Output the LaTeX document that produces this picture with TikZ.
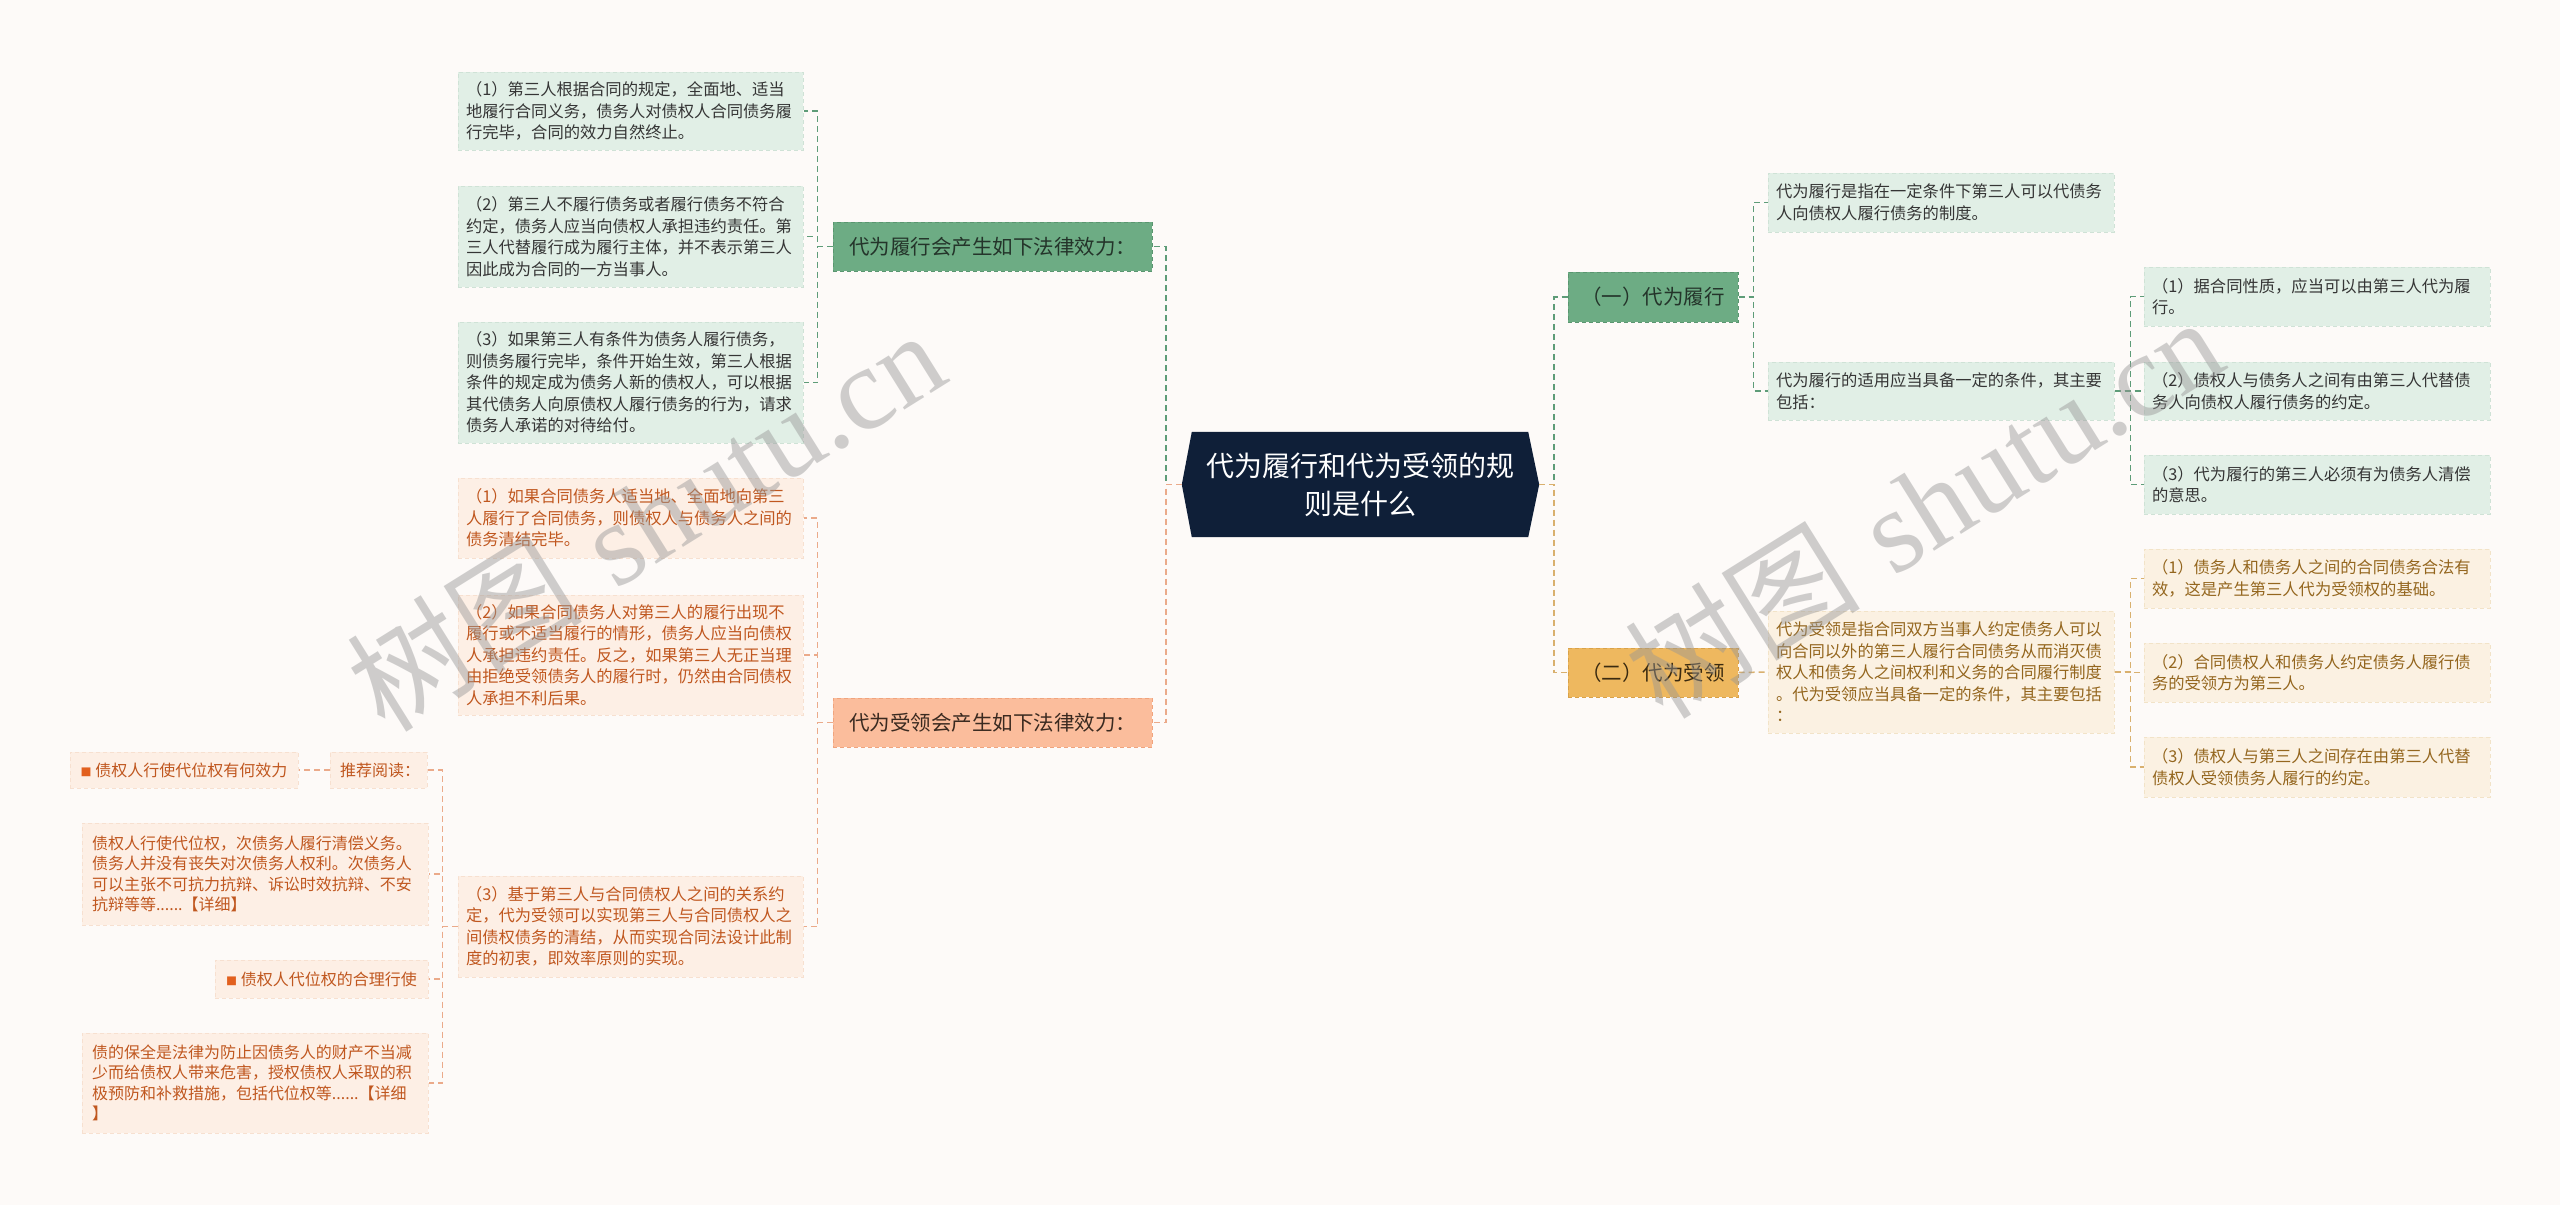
\documentclass[tikz,border=0pt]{standalone}
\usepackage{fontspec}
\newfontfamily\cjk{Noto Sans CJK SC}
\newfontfamily\wmserif{Liberation Serif}
\usetikzlibrary{calc}
\definecolor{bg}{HTML}{FDFAF8}
\definecolor{rootfill}{HTML}{0F1F38}
\definecolor{gdark}{HTML}{6DAC84}
\definecolor{gdarkdraw}{HTML}{5A9670}
\definecolor{gdarktext}{HTML}{24342A}
\definecolor{gleaffill}{HTML}{E1EFE6}
\definecolor{gleafdraw}{HTML}{CFE2D6}
\definecolor{gleaftext}{HTML}{353535}
\definecolor{gline}{HTML}{5E9C78}
\definecolor{odark}{HTML}{FBBD9C}
\definecolor{odarkdraw}{HTML}{F0A47E}
\definecolor{odarktext}{HTML}{3A2A20}
\definecolor{oleaffill}{HTML}{FDEFE5}
\definecolor{oleafdraw}{HTML}{F7E0D0}
\definecolor{oleaftext}{HTML}{C0571F}
\definecolor{oline}{HTML}{EBAA8A}
\definecolor{bullet}{HTML}{E2601E}
\definecolor{ydark}{HTML}{EEB85F}
\definecolor{ydarkdraw}{HTML}{D9A24A}
\definecolor{ydarktext}{HTML}{3A2A10}
\definecolor{yleaffill}{HTML}{FBF1E2}
\definecolor{yleafdraw}{HTML}{F2E3C8}
\definecolor{yleaftext}{HTML}{94661E}
\definecolor{yline}{HTML}{D9B06E}
\definecolor{wmgray}{HTML}{969696}
\newcommand\leaffont{\cjk\fontsize{16.3pt}{21.5pt}\selectfont}
\newcommand\recfont{\cjk\fontsize{16pt}{20.5pt}\selectfont}
\newcommand\midfont{\cjk\fontsize{20.5pt}{24pt}\selectfont}
\newcommand\rootfont{\cjk\fontsize{28pt}{38pt}\selectfont}
\newcommand\sqb{{\color{bullet}\fontsize{11pt}{11pt}\selectfont ■}}
\tikzset{
  boxbase/.style={inner xsep=8pt, inner ysep=0pt, align=left, anchor=center, line width=1pt, dash pattern=on 4pt off 3pt},
  gleaf/.style={boxbase, font=\leaffont, fill=gleaffill, draw=gleafdraw, text=gleaftext},
  oleaf/.style={boxbase, font=\leaffont, fill=oleaffill, draw=oleafdraw, text=oleaftext},
  yleaf/.style={boxbase, font=\leaffont, fill=yleaffill, draw=yleafdraw, text=yleaftext},
  recbox/.style={boxbase, inner xsep=10pt, font=\recfont, fill=oleaffill, draw=oleafdraw, text=oleaftext},
  gmid/.style={boxbase, align=center, font=\midfont, fill=gdark, draw=gdarkdraw, text=gdarktext},
  omid/.style={boxbase, align=center, font=\midfont, fill=odark, draw=odarkdraw, text=odarktext},
  ymid/.style={boxbase, align=center, font=\midfont, fill=ydark, draw=ydarkdraw, text=ydarktext},
  gcon/.style={draw=gline, line width=1.5pt, dash pattern=on 6pt off 4pt},
  ocon/.style={draw=oline, line width=1.5pt, dash pattern=on 6pt off 4pt},
  ycon/.style={draw=yline, line width=1.5pt, dash pattern=on 6pt off 4pt},
  wmark/.style={rotate=32, text=wmgray, text opacity=0.45, font=\fontsize{118pt}{128pt}\selectfont},
}
\begin{document}
\begin{tikzpicture}[x=1pt,y=-1pt]
\fill[bg] (0,0) rectangle (2560,1205);
\useasboundingbox (0,0) rectangle (2560,1205);

% root
\node[inner sep=0pt, minimum width=357pt, minimum height=105pt] (root) at (1360.5,484.5) {};
\fill[rootfill] ($(root.north west)+(10,0)$) -- ($(root.north east)+(-11,0)$) -- (root.east) -- ($(root.south east)+(-11,0)$) -- ($(root.south west)+(10,0)$) -- (root.west) -- cycle;
\node[font=\rootfont, text=white, align=center] (roottext) at (root.center) {代为履行和代为受领的规\\则是什么};

% left green
\node[gmid, text width=303pt, minimum height=49pt] (gA) at (992.5,246.5) {代为履行会产生如下法律效力：};
\node[gleaf, text width=329pt, minimum height=78pt] (gL1) at (630.5,111) {（1）第三人根据合同的规定，全面地、适当\\地履行合同义务，债务人对债权人合同债务履\\行完毕，合同的效力自然终止。};
\node[gleaf, text width=329pt, minimum height=101pt] (gL2) at (630.5,236.5) {（2）第三人不履行债务或者履行债务不符合\\约定，债务人应当向债权人承担违约责任。第\\三人代替履行成为履行主体，并不表示第三人\\因此成为合同的一方当事人。};
\node[gleaf, text width=329pt, minimum height=121pt] (gL3) at (630.5,382.5) {（3）如果第三人有条件为债务人履行债务，\\则债务履行完毕，条件开始生效，第三人根据\\条件的规定成为债务人新的债权人，可以根据\\其代债务人向原债权人履行债务的行为，请求\\债务人承诺的对待给付。};

% left orange
\node[omid, text width=303pt, minimum height=49pt] (oA) at (992.5,722.5) {代为受领会产生如下法律效力：};
\node[oleaf, text width=329pt, minimum height=80pt] (oL1) at (630.5,518) {（1）如果合同债务人适当地、全面地向第三\\人履行了合同债务，则债权人与债务人之间的\\债务清结完毕。};
\node[oleaf, text width=329pt, minimum height=120pt] (oL2) at (630.5,655) {（2）如果合同债务人对第三人的履行出现不\\履行或不适当履行的情形，债务人应当向债权\\人承担违约责任。反之，如果第三人无正当理\\由拒绝受领债务人的履行时，仍然由合同债权\\人承担不利后果。};
\node[oleaf, text width=329pt, minimum height=101pt] (oL3) at (630.5,926.5) {（3）基于第三人与合同债权人之间的关系约\\定，代为受领可以实现第三人与合同债权人之\\间债权债务的清结，从而实现合同法设计此制\\度的初衷，即效率原则的实现。};

% recommended reading group
\node[recbox, text width=77pt, minimum height=36pt] (rec) at (378.5,770) {推荐阅读：};
\node[recbox, minimum width=228pt, minimum height=36pt] (rl1) at (184,770) {\sqb\ 债权人行使代位权有何效力};
\node[recbox, text width=326pt, minimum height=102pt] (rd1) at (255,874) {债权人行使代位权，次债务人履行清偿义务。\\债务人并没有丧失对次债务人权利。次债务人\\可以主张不可抗力抗辩、诉讼时效抗辩、不安\\抗辩等等......【详细】};
\node[recbox, minimum width=213pt, minimum height=38pt] (rl2) at (321.5,979) {\sqb\ 债权人代位权的合理行使};
\node[recbox, text width=326pt, minimum height=100pt] (rd2) at (255,1083) {债的保全是法律为防止因债务人的财产不当减\\少而给债权人带来危害，授权债权人采取的积\\极预防和补救措施，包括代位权等......【详细\\】};

% right green
\node[gmid, text width=154pt, minimum height=50pt] (gB) at (1653,297) {（一）代为履行};
\node[gleaf, text width=330pt, minimum height=59pt] (gD1) at (1941,202.5) {代为履行是指在一定条件下第三人可以代债务\\人向债权人履行债务的制度。};
\node[gleaf, text width=330pt, minimum height=58pt] (gD2) at (1941,391) {代为履行的适用应当具备一定的条件，其主要\\包括：};
\node[gleaf, text width=330pt, minimum height=59pt] (gR1) at (2317,296.5) {（1）据合同性质，应当可以由第三人代为履\\行。};
\node[gleaf, text width=330pt, minimum height=58pt] (gR2) at (2317,391) {（2）债权人与债务人之间有由第三人代替债\\务人向债权人履行债务的约定。};
\node[gleaf, text width=330pt, minimum height=59pt] (gR3) at (2317,484.5) {（3）代为履行的第三人必须有为债务人清偿\\的意思。};

% right gold
\node[ymid, text width=154pt, minimum height=49pt] (yB) at (1653,672.5) {（二）代为受领};
\node[yleaf, text width=330pt, minimum height=122pt] (yD) at (1941,672) {代为受领是指合同双方当事人约定债务人可以\\向合同以外的第三人履行合同债务从而消灭债\\权人和债务人之间权利和义务的合同履行制度\\。代为受领应当具备一定的条件，其主要包括\\：};
\node[yleaf, text width=330pt, minimum height=59pt] (yR1) at (2317,578.5) {（1）债务人和债务人之间的合同债务合法有\\效，这是产生第三人代为受领权的基础。};
\node[yleaf, text width=330pt, minimum height=59pt] (yR2) at (2317,672.5) {（2）合同债权人和债务人约定债务人履行债\\务的受领方为第三人。};
\node[yleaf, text width=330pt, minimum height=60pt] (yR3) at (2317,767) {（3）债权人与第三人之间存在由第三人代替\\债权人受领债务人履行的约定。};

% connectors
\draw[gcon] (root.west) -- ++(-16,0) |- (gA.east);
\draw[ocon] (root.west) -- ++(-16,0) |- (oA.east);
\foreach \n in {gL1,gL2,gL3} \draw[gcon] (gA.west) -- ++(-15,0) |- (\n.east);
\foreach \n in {oL1,oL2,oL3} \draw[ocon] (oA.west) -- ++(-15,0) |- (\n.east);
\foreach \n in {rec,rd1,rl2,rd2} \draw[ocon] (oL3.west) -- ++(-15,0) |- (\n.east);
\draw[ocon] (rec.west) -- (rl1.east);
\draw[gcon] (root.east) -- ++(15,0) |- (gB.west);
\draw[ycon] (root.east) -- ++(15,0) |- (yB.west);
\foreach \n in {gD1,gD2} \draw[gcon] (gB.east) -- ++(15,0) |- (\n.west);
\foreach \n in {gR1,gR2,gR3} \draw[gcon] (gD2.east) -- ++(16,0) |- (\n.west);
\draw[ycon] (yB.east) -- (yD.west);
\foreach \n in {yR1,yR2,yR3} \draw[ycon] (yD.east) -- ++(16,0) |- (\n.west);

% watermarks
\node[wmark] (wm1) at (645,519) {{\cjk 树图} {\wmserif shutu.cn}};
\node[wmark] (wm2) at (1923,506) {{\cjk 树图} {\wmserif shutu.cn}};
\end{tikzpicture}
\end{document}
